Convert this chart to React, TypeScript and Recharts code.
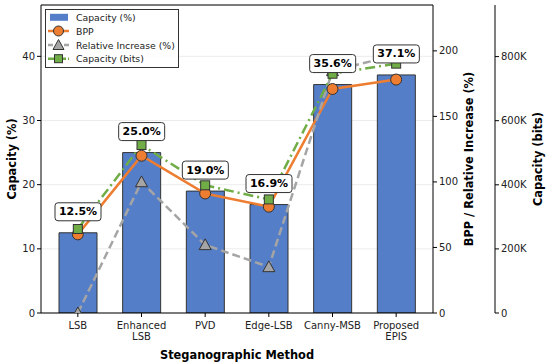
import React from 'react';
import { ComposedChart, Bar, Line, XAxis, YAxis, CartesianGrid, LabelList, ReferenceLine } from 'recharts';

const methods = ['LSB', 'Enhanced\nLSB', 'PVD', 'Edge-LSB', 'Canny-MSB', 'Proposed\nEPIS'];
const capacityPct = [12.5, 25.0, 19.0, 16.9, 35.6, 37.1];
const bpp = [60.0, 120.0, 91.2, 81.1, 170.9, 178.1];
const relativeIncrease = [0, 100.0, 52.0, 35.2, 184.8, 196.8];
const capacityBits = [262144, 524288, 398459, 354419, 746586, 778043];

const leftTicks = [0, 10, 20, 30, 40];
const midTicks = [0, 50, 100, 150, 200];
const rightTicks = [0, 200000, 400000, 600000, 800000];
const leftDomain = [0, 48];
const midDomain = [0, 235];
const rightDomain = [0, 961000];

const legendItems = ['Capacity (%)', 'BPP', 'Relative Increase (%)', 'Capacity (bits)'];

const data = methods.map((m, i) => ({
  method: m,
  cap: capacityPct[i],
  bpp: bpp[i],
  rel: relativeIncrease[i],
  bits: capacityBits[i],
}));

const FONT = '"DejaVu Sans", sans-serif';
const BLUE = '#557ec9';
const ORANGE = '#ED7D31';
const GRAY = '#A5A5A5';
const GREEN = '#70AD47';
const EDGE = '#333333';
const LABEL_SIZE = 11.4;
const TICK_SIZE = 10;

const CircleDot = (p: any) => {
  if (p.cx == null || p.cy == null) return null;
  return <circle key={`c${p.index}`} cx={p.cx} cy={p.cy} r={5.5} fill={ORANGE} stroke={EDGE} strokeWidth={1} />;
};
const TriDot = (p: any) => {
  if (p.cx == null || p.cy == null) return null;
  const s = 6;
  const pts = `${p.cx},${p.cy - s} ${p.cx + s},${p.cy + s * 0.8} ${p.cx - s},${p.cy + s * 0.8}`;
  return <polygon key={`t${p.index}`} points={pts} fill={GRAY} stroke={EDGE} strokeWidth={1} />;
};
const SqDot = (p: any) => {
  if (p.cx == null || p.cy == null) return null;
  const s = 4.5;
  return <rect key={`s${p.index}`} x={p.cx - s} y={p.cy - s} width={2 * s} height={2 * s} fill={GREEN} stroke={EDGE} strokeWidth={1} />;
};

const BarLabel = (p: any) => {
  const { x, y, width, value } = p;
  if (x == null) return null;
  const cx = Number(x) + Number(width) / 2;
  const cy = Number(y) - 21;
  const txt = `${Number(value).toFixed(1)}%`;
  return (
    <g>
      <rect x={cx - 23} y={cy - 9} width={46} height={18} rx={3} ry={3} fill="#fff" stroke={EDGE} strokeWidth={1} />
      <text x={cx} y={cy} textAnchor="middle" dominantBaseline="central" fontFamily={FONT} fontWeight="bold" fontSize={11} fill="#000">{txt}</text>
    </g>
  );
};

const XTick = (p: any) => {
  const { x, y, payload } = p;
  const lines = String(payload.value).split('\n');
  return (
    <g>
      {lines.map((l, i) => (
        <text key={i} x={x} y={y + 6 + i * 11.5} textAnchor="middle" dominantBaseline="central" fontFamily={FONT} fontSize={TICK_SIZE} fill="#222">{l}</text>
      ))}
    </g>
  );
};

const yLabel = (text: string, dx: number) => (props: any) => {
  const vb = props.viewBox || { x: 0, y: 0, width: 0, height: 0 };
  const cx = vb.x + dx;
  const cy = vb.y + vb.height / 2;
  return (
    <text x={cx} y={cy} transform={`rotate(-90 ${cx} ${cy})`} textAnchor="middle" dominantBaseline="central" fontFamily={FONT} fontWeight="bold" fontSize={LABEL_SIZE} fill="#000">{text}</text>
  );
};

const kFmt = (v: number) => (v === 0 ? '0' : `${Math.round(v / 1000)}K`);

const tickStyle = { fontFamily: FONT, fontSize: TICK_SIZE, fill: '#222' };

const Legend = () => {
  const rows = [8.3, 22, 36, 49.7];
  return (
    <svg width={136} height={60} style={{ position: 'absolute', left: 45, top: 8.5 }}>
      <rect x={0.5} y={0.5} width={133} height={58} fill="#fff" fillOpacity={0.85} stroke={EDGE} strokeWidth={1} />
      <rect x={5} y={rows[0] - 3.5} width={18} height={7} fill={BLUE} />
      <line x1={3} x2={24} y1={rows[1]} y2={rows[1]} stroke={ORANGE} strokeWidth={2.5} />
      <circle cx={13.5} cy={rows[1]} r={5} fill={ORANGE} stroke={EDGE} strokeWidth={1} />
      <line x1={3} x2={24} y1={rows[2]} y2={rows[2]} stroke={GRAY} strokeWidth={2.5} strokeDasharray="5 3" />
      <polygon points={`13.5,${rows[2] - 5.5} 19,${rows[2] + 4.5} 8,${rows[2] + 4.5}`} fill={GRAY} stroke={EDGE} strokeWidth={1} />
      <line x1={3} x2={24} y1={rows[3]} y2={rows[3]} stroke={GREEN} strokeWidth={2.5} strokeDasharray="6 2 2 2" />
      <rect x={9.5} y={rows[3] - 4} width={8} height={8} fill={GREEN} stroke={EDGE} strokeWidth={1} />
      {legendItems.map((t, i) => (
        <text key={t} x={31} y={rows[i]} dominantBaseline="central" fontFamily={FONT} fontSize={9.3} fill="#222">{t}</text>
      ))}
    </svg>
  );
};

export default function App() {
  return (
    <div style={{ position: 'absolute', left: 0, top: 0, width: 550, height: 364, background: '#fff' }}>
      <ComposedChart width={550} height={364} data={data} margin={{ top: 5, right: 0, bottom: 0, left: 4 }} barSize={38}>
        <CartesianGrid yAxisId="left" vertical={false} stroke="#ececec" />
        <XAxis
          dataKey="method"
          interval={0}
          padding={{ left: 5, right: 5 }}
          height={51}
          tick={<XTick />}
          tickSize={4}
          axisLine={{ stroke: '#000' }}
          tickLine={{ stroke: '#000' }}
          label={{ value: 'Steganographic Method', position: 'insideBottom', offset: 5, style: { fontFamily: FONT, fontWeight: 'bold', fontSize: LABEL_SIZE, fill: '#000' } }}
        />
        <YAxis
          yAxisId="left"
          orientation="left"
          width={37}
          domain={leftDomain}
          ticks={leftTicks}
          allowDataOverflow
          tick={tickStyle}
          tickSize={4}
          tickMargin={2}
          axisLine={{ stroke: '#000' }}
          tickLine={{ stroke: '#000' }}
          label={yLabel('Capacity (%)', 8)}
        />
        <YAxis
          yAxisId="mid"
          orientation="right"
          width={62}
          domain={midDomain}
          ticks={midTicks}
          allowDataOverflow
          tick={tickStyle}
          tickSize={4}
          tickMargin={2}
          axisLine={{ stroke: '#000' }}
          tickLine={{ stroke: '#000' }}
          label={yLabel('BPP / Relative Increase (%)', 36)}
        />
        <YAxis
          yAxisId="right"
          orientation="right"
          width={55}
          domain={rightDomain}
          ticks={rightTicks}
          allowDataOverflow
          tickFormatter={kFmt}
          tick={tickStyle}
          tickSize={4}
          tickMargin={2}
          axisLine={{ stroke: '#000' }}
          tickLine={{ stroke: '#000' }}
          label={yLabel('Capacity (bits)', 43)}
        />
        <ReferenceLine yAxisId="left" y={leftDomain[1]} stroke="#000" strokeWidth={1} ifOverflow="extendDomain" />
        <Bar yAxisId="left" dataKey="cap" fill={BLUE} stroke={EDGE} strokeWidth={1} isAnimationActive={false}>
          <LabelList dataKey="cap" content={<BarLabel />} />
        </Bar>
        <Line yAxisId="mid" dataKey="bpp" stroke={ORANGE} strokeWidth={2.5} dot={<CircleDot />} activeDot={false} isAnimationActive={false} />
        <Line yAxisId="mid" dataKey="rel" stroke={GRAY} strokeWidth={2.5} strokeDasharray="8 4" dot={<TriDot />} activeDot={false} isAnimationActive={false} />
        <Line yAxisId="right" dataKey="bits" stroke={GREEN} strokeWidth={2.5} strokeDasharray="10 4 2 4" dot={<SqDot />} activeDot={false} isAnimationActive={false} />
      </ComposedChart>
      <Legend />
    </div>
  );
}
